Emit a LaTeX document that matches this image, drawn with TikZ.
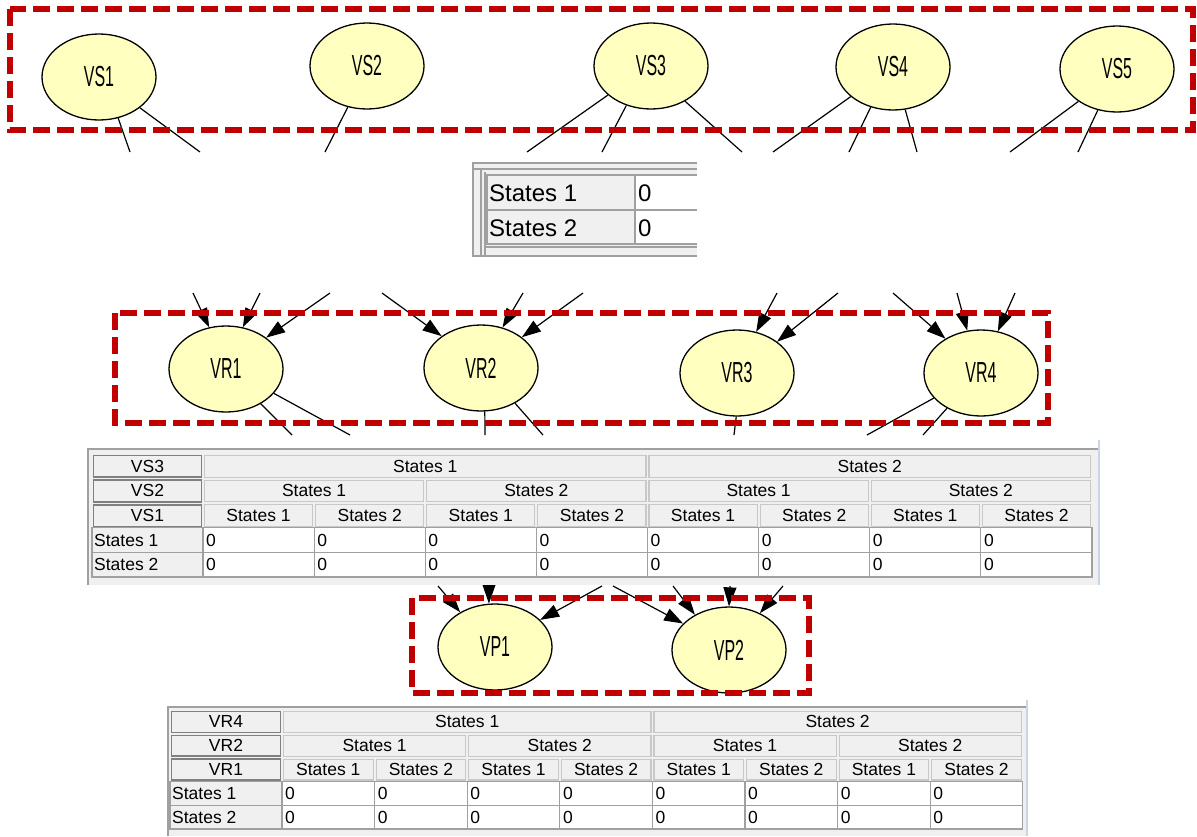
\documentclass[tikz,border=0pt]{standalone}
\usepackage{fontspec}
\usepackage{graphicx}
\setmainfont{Liberation Sans}
\usetikzlibrary{shapes.geometric,arrows.meta}
\definecolor{dred}{HTML}{C00000}
\definecolor{nodefill}{HTML}{FFFFC0}
\definecolor{panel}{HTML}{F0F0F0}
\definecolor{cellline}{HTML}{A0A0A0}
\definecolor{hdrline}{HTML}{C8C8C8}
\definecolor{lhdrline}{HTML}{808080}
\definecolor{frameblue}{HTML}{C8D6E8}
\newcommand\nlab[1]{\scalebox{0.55}[1]{#1}}
\tikzset{
 bn/.style={ellipse, draw=black, line width=1.3pt, fill=nodefill, minimum width=114pt, minimum height=86pt, inner sep=0pt, font=\fontsize{29}{30}\selectfont},
 grp/.style={draw=dred, line width=6pt, dash pattern=on 17pt off 7pt},
 lnk/.style={draw=black, line width=1.2pt},
 arr/.style={lnk, -{Triangle[length=19pt,width=13pt]}},
 tfont/.style={font=\fontsize{17.5}{20}\selectfont},
 hdr/.style={rectangle, draw=hdrline, fill=panel, line width=1.2pt, inner sep=0pt, tfont},
 lhdr/.style={hdr, draw=lhdrline, line width=1.6pt},
 rlab/.style={rectangle, draw=cellline, fill=panel, line width=1.2pt, inner sep=0pt},
 dcell/.style={rectangle, draw=cellline, fill=white, line width=1.2pt, inner sep=0pt},
 ctext/.style={anchor=west, inner sep=0pt, tfont},
}
% table: #1 prefix, #2 #3 #4 header labels; uses \tL \tD \tW \tT \tH
\newcommand\cpttable[4]{%
 \pgfmathsetmacro\tLW{\tD-\tL}%
 \node[lhdr, minimum width={(\tLW-3)*1pt}, minimum height={(\tH-3)*1pt}] (#1l1) at ({\tL+\tLW/2},{\tT+0.5*\tH}) {#2};
 \node[lhdr, minimum width={(\tLW-3)*1pt}, minimum height={(\tH-3)*1pt}] (#1l2) at ({\tL+\tLW/2},{\tT+1.5*\tH}) {#3};
 \node[lhdr, minimum width={(\tLW-3)*1pt}, minimum height={(\tH-3)*1pt}] (#1l3) at ({\tL+\tLW/2},{\tT+2.5*\tH}) {#4};
 \foreach \k in {0,1}{
   \pgfmathtruncatemacro\s{\k+1}
   \node[hdr, minimum width={(4*\tW-3)*1pt}, minimum height={(\tH-3)*1pt}] (#1a\k) at ({\tD+(4*\k+2)*\tW},{\tT+0.5*\tH}) {States \s};
 }
 \foreach \k in {0,...,3}{
   \pgfmathtruncatemacro\s{mod(\k,2)+1}
   \node[hdr, minimum width={(2*\tW-3)*1pt}, minimum height={(\tH-3)*1pt}] (#1b\k) at ({\tD+(2*\k+1)*\tW},{\tT+1.5*\tH}) {States \s};
 }
 \foreach \k in {0,...,7}{
   \pgfmathtruncatemacro\s{mod(\k,2)+1}
   \node[hdr, minimum width={(\tW-3)*1pt}, minimum height={(\tH-3)*1pt}] (#1c\k) at ({\tD+(\k+0.5)*\tW},{\tT+2.5*\tH}) {States \s};
 }
 \foreach \r in {1,2}{
   \node[rlab, minimum width={\tLW*1pt}, minimum height={\tH*1pt}] (#1r\r) at ({\tL+\tLW/2},{\tT+(2.5+\r)*\tH}) {};
   \node[ctext] (#1rt\r) at ({\tL+2},{\tT+(2.5+\r)*\tH}) {States \r};
   \foreach \k in {0,...,7}{
     \node[dcell, minimum width={\tW*1pt}, minimum height={\tH*1pt}] (#1d\r\k) at ({\tD+(\k+0.5)*\tW},{\tT+(2.5+\r)*\tH}) {};
     \node[ctext] (#1dt\r\k) at ({\tD+\k*\tW+3},{\tT+(2.5+\r)*\tH}) {0};
   }
 }
}
\begin{document}
\begin{tikzpicture}[x=1pt,y=-1pt]
\useasboundingbox[fill=white] (0,0) rectangle (1197,836);
% ---------- nodes ----------
\node[bn] (VS1) at (99,77) {\nlab{VS1}};
\node[bn] (VS2) at (367,66) {\nlab{VS2}};
\node[bn] (VS3) at (651,66) {\nlab{VS3}};
\node[bn] (VS4) at (893,67) {\nlab{VS4}};
\node[bn] (VS5) at (1117,69) {\nlab{VS5}};
\node[bn] (VR1) at (226,369) {\nlab{VR1}};
\node[bn] (VR2) at (481,368) {\nlab{VR2}};
\node[bn] (VR3) at (737,373) {\nlab{VR3}};
\node[bn] (VR4) at (981,373) {\nlab{VR4}};
\node[bn] (VP1) at (495,647) {\nlab{VP1}};
\node[bn] (VP2) at (729,650) {\nlab{VP2}};
% ---------- free ends ----------
\coordinate (s1) at (130,152); \coordinate (s2) at (200,152);
\coordinate (s3) at (325,152);
\coordinate (s4) at (527,152); \coordinate (s5) at (602,152); \coordinate (s6) at (742,152);
\coordinate (s7) at (773,152); \coordinate (s8) at (849,152); \coordinate (s9) at (917,152);
\coordinate (s10) at (1010,152); \coordinate (s11) at (1078,152);
\coordinate (r1) at (193,293); \coordinate (r2) at (260,293); \coordinate (r3) at (330,293);
\coordinate (r4) at (382,293); \coordinate (r5) at (523,293); \coordinate (r6) at (583,293);
\coordinate (r7) at (777,293); \coordinate (r8) at (838,293);
\coordinate (r9) at (893,293); \coordinate (r10) at (957,293); \coordinate (r11) at (1015,293);
\coordinate (o1) at (292,435); \coordinate (o2) at (350,435);
\coordinate (o3) at (485,435); \coordinate (o4) at (543,435);
\coordinate (o5) at (734,435);
\coordinate (o6) at (867,435); \coordinate (o7) at (923,435);
\coordinate (q1) at (438,586); \coordinate (q2) at (489,586); \coordinate (q3) at (602,586);
\coordinate (q4) at (613,586); \coordinate (q5) at (673,586); \coordinate (q6) at (730,586); \coordinate (q7) at (783,586);
% ---------- connectors ----------
\draw[lnk] (VS1.-65) -- (s1);
\draw[lnk] (VS1.-37) -- (s2);
\draw[lnk] (VS2.-115) -- (s3);
\draw[lnk] (VS3.-146) -- (s4);
\draw[lnk] (VS3.-122) -- (s5);
\draw[lnk] (VS3.-46) -- (s6);
\draw[lnk] (VS4.-145) -- (s7);
\draw[lnk] (VS4.-119) -- (s8);
\draw[lnk] (VS4.-74) -- (s9);
\draw[lnk] (VS5.-140) -- (s10);
\draw[lnk] (VS5.-115) -- (s11);
\draw[arr] (r1) -- (VR1.112);
\draw[arr] (r2) -- (VR1.68);
\draw[arr] (r3) -- (VR1.38);
\draw[arr] (r4) -- (VR2.141);
\draw[arr] (r5) -- (VR2.62);
\draw[arr] (r6) -- (VR2.37);
\draw[arr] (r7) -- (VR3.65);
\draw[arr] (r8) -- (VR3.38);
\draw[arr] (r9) -- (VR4.136);
\draw[arr] (r10) -- (VR4.108);
\draw[arr] (r11) -- (VR4.68);
\draw[lnk] (VR1.-45) -- (o1);
\draw[lnk] (VR1.-27) -- (o2);
\draw[lnk] (VR2.-85) -- (o3);
\draw[lnk] (VR2.-46) -- (o4);
\draw[lnk] (VR3.-91) -- (o5);
\draw[lnk] (VR4.-152) -- (o6);
\draw[lnk] (VR4.-134) -- (o7);
\draw[arr] (q1) -- (VP1.135);
\draw[arr] (q2) -- (VP1.98);
\draw[arr] (q3) -- (VP1.31);
\draw[arr] (q4) -- (VP2.150);
\draw[arr] (q5) -- (VP2.134);
\draw[arr] (q6) -- (VP2.90);
\draw[arr] (q7) -- (VP2.50);
% ---------- group boxes ----------
\draw[grp] (10,9) rectangle (1193,130);
\draw[grp] (115,313) rectangle (1048,423);
\draw[grp] (412,598) rectangle (809,693);
% ---------- small table ----------
\fill[panel] (473,163) rectangle (697,256);
\draw[cellline, line width=1.5pt] (697,163) -- (473,163) -- (473,256) -- (697,256);
\draw[cellline, line width=1.2pt] (473,169) -- (697,169);
\draw[cellline, line width=1.2pt] (481,169) -- (481,256);
\draw[cellline, line width=1.2pt] (485,172) -- (485,256);
\draw[cellline, line width=1.2pt] (485,247) -- (697,247);
\fill[white] (635,175) rectangle (697,244);
\draw[cellline, line width=1.2pt] (487,175) -- (697,175);
\draw[cellline, line width=1.2pt] (487,210) -- (697,210);
\draw[cellline, line width=1.2pt] (487,244) -- (697,244);
\node[rlab, minimum width=148pt, minimum height=35pt] (m1) at (561,192.5) {};
\node[rlab, minimum width=148pt, minimum height=34pt] (m2) at (561,227) {};
\node[anchor=west, inner sep=0pt, font=\fontsize{24}{26}\selectfont] (mt1) at (489,193) {States 1};
\node[anchor=west, inner sep=0pt, font=\fontsize{24}{26}\selectfont] (mt2) at (489,228) {States 2};
\node[anchor=west, inner sep=0pt, font=\fontsize{24}{26}\selectfont] (mt3) at (638,193) {0};
\node[anchor=west, inner sep=0pt, font=\fontsize{24}{26}\selectfont] (mt4) at (638,228) {0};
% ---------- table 1 ----------
\fill[panel] (88,449) rectangle (1099,585);
\draw[cellline, line width=1.5pt] (88,585) -- (88,449) -- (1099,449);
\draw[frameblue, line width=2pt] (1099,440) -- (1099,585);
\def\tL{92}\def\tD{203}\def\tW{111.125}\def\tT{454}\def\tH{24.6}
\cpttable{A}{VS3}{VS2}{VS1}
% ---------- table 2 ----------
\fill[panel] (168,707) rectangle (1027,836);
\draw[cellline, line width=1.5pt] (168,836) -- (168,707) -- (1027,707);
\draw[frameblue, line width=2pt] (1027,700) -- (1027,836);
\def\tL{170}\def\tD{282}\def\tW{92.6}\def\tT{710}\def\tH{23.8}
\cpttable{B}{VR4}{VR2}{VR1}
\end{tikzpicture}
\end{document}
